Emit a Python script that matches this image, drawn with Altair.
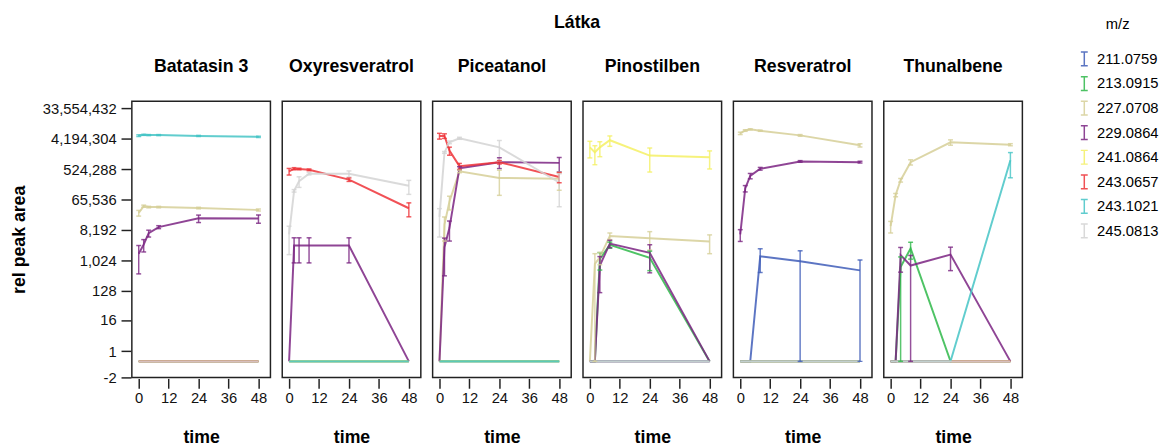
import altair as alt
import pandas as pd

TIMES = [0, 2, 4, 8, 24, 48]
MZ = ["211.0759", "213.0915", "227.0708", "229.0864", "241.0864", "243.0657", "243.1021", "245.0813"]
COLORS = ["#3F5DB8", "#2FB84A", "#D6CF98", "#7B2582", "#F4F064", "#EE3338", "#45C4C6", "#D3D3D3"]
SUBSTANCES = ["Batatasin 3", "Oxyresveratrol", "Piceatanol", "Pinostilben", "Resveratrol", "Thunalbene"]

batatasin3_mean = {
    "227.0708": [26000, 41500, 39000, 39000, 36500, 32000],
    "229.0864": [1600, 3000, 6500, 9900, 18000, 17800],
    "243.1021": [5200000, 5500000, 5400000, 5400000, 5100000, 4800000],
}
batatasin3_sd = {
    "227.0708": [5000, 3000, 2000, 2000, 2000, 2000],
    "229.0864": [1200, 1200, 1500, 1000, 4500, 5000],
    "243.1021": [300000, 200000, 200000, 200000, 200000, 200000],
}

oxyresveratrol_mean = {
    "229.0864": [0, 2800, 2800, 2800, 2800, 0],
    "243.0657": [450000, 540000, 530000, 500000, 256000, 36000],
    "245.0813": [6000, 119000, 230000, 384000, 384000, 168000],
}
oxyresveratrol_sd = {
    "229.0864": [0, 1950, 1950, 1950, 1950, 0],
    "243.0657": [100000, 40000, 30000, 30000, 30000, 16000],
    "245.0813": [4500, 10000, 80000, 30000, 80000, 75000],
}

piceatanol_mean = {
    "227.0708": [0, 11800, 57000, 450000, 287000, 273000],
    "229.0864": [0, 2500, 9400, 560000, 845000, 805000],
    "243.0657": [5100000, 5100000, 1860000, 645000, 845000, 307000],
    "245.0813": [20000, 1650000, 3300000, 4350000, 2330000, 210000],
}
piceatanol_sd = {
    "227.0708": [0, 8000, 25000, 40000, 200000, 150000],
    "229.0864": [0, 2150, 5600, 60000, 300000, 365000],
    "243.0657": [1000000, 800000, 500000, 130000, 100000, 100000],
    "245.0813": [15000, 100000, 300000, 300000, 1400000, 170000],
}

pinostilben_mean = {
    "213.0915": [0, 0, 1120, 2930, 1200, 0],
    "227.0708": [0, 800, 1250, 5400, 4640, 3700],
    "229.0864": [0, 0, 710, 3200, 1690, 0],
    "241.0864": [2330000, 1660000, 2330000, 3800000, 1330000, 1180000],
}
pinostilben_sd = {
    "213.0915": [0, 0, 600, 600, 700, 0],
    "227.0708": [0, 800, 500, 1200, 2600, 2100],
    "229.0864": [0, 0, 600, 800, 1260, 0],
    "241.0864": [1200000, 950000, 1100000, 1300000, 900000, 650000],
}

resveratrol_mean = {
    "211.0759": [0, 0, 0, 1340, 950, 510],
    "227.0708": [6100000, 7400000, 8000000, 7300000, 5300000, 2700000],
    "229.0864": [6000, 140000, 330000, 540000, 890000, 845000],
}
resveratrol_sd = {
    "211.0759": [0, 0, 0, 900, 1000, 520],
    "227.0708": [500000, 400000, 300000, 300000, 300000, 300000],
    "229.0864": [2300, 30000, 60000, 50000, 50000, 50000],
}

thunalbene_mean = {
    "213.0915": [0, 0, 640, 2300, 0, 0],
    "227.0708": [10600, 89000, 246000, 845000, 3300000, 2800000],
    "229.0864": [0, 0, 1450, 710, 1500, 0],
    "243.1021": [0, 0, 0, 0, 0, 960000],
}
thunalbene_sd = {
    "213.0915": [0, 0, 640, 1200, 0, 0],
    "227.0708": [4000, 10000, 30000, 150000, 600000, 200000],
    "229.0864": [0, 0, 1000, 710, 1000, 0],
    "243.1021": [0, 0, 0, 0, 0, 670000],
}

PANELS = {
    "Batatasin 3": (batatasin3_mean, batatasin3_sd),
    "Oxyresveratrol": (oxyresveratrol_mean, oxyresveratrol_sd),
    "Piceatanol": (piceatanol_mean, piceatanol_sd),
    "Pinostilben": (pinostilben_mean, pinostilben_sd),
    "Resveratrol": (resveratrol_mean, resveratrol_sd),
    "Thunalbene": (thunalbene_mean, thunalbene_sd),
}

rows = []
for sub in SUBSTANCES:
    means, sds = PANELS[sub]
    for mz in MZ:
        m = means.get(mz, [0] * len(TIMES))
        s = sds.get(mz, [0] * len(TIMES))
        for t, v, e in zip(TIMES, m, s):
            rows.append({"Látka": sub, "m/z": mz, "time": t, "value": v,
                         "lower": max(0, v - e), "upper": v + e, "sd": e})
df = pd.DataFrame(rows)

YTICKS = [-2, 1, 16, 128, 1024, 8192, 65536, 524288, 4194304, 33554432]
XTICKS = [0, 12, 24, 36, 48]

xscale = alt.Scale(domain=[-2.75, 52.8], nice=False, zero=False)
yscale = alt.Scale(type="symlog", domain=[-2, 55000000], nice=False, zero=False)
cscale = alt.Scale(domain=MZ, range=COLORS)

yaxis = alt.Axis(values=YTICKS, title="rel peak area", grid=False, domain=False,
                 labelExpr="datum.value < 0 ? '-' + format(-datum.value, ',') : format(datum.value, ',')",
                 labelOverlap=False, tickSize=10, labelFontSize=15, titleFontSize=18,
                 titleFontWeight="bold", tickColor="#222", tickWidth=1.5, labelColor="#111",
                 labelPadding=5, titlePadding=14)
xaxis = alt.Axis(values=XTICKS, title="time", grid=False, domain=False, tickSize=10,
                 labelOverlap=False, labelFontSize=15, titleFontSize=18, titleFontWeight="bold",
                 tickColor="#222", tickWidth=1.5, labelColor="#111", labelPadding=3, titlePadding=23)

legend = alt.Legend(title="m/z", symbolType="M-0.5,-1H0.5M0,-1V1M-0.5,1H0.5",
                    symbolSize=196, symbolStrokeWidth=1.5, symbolFillColor="transparent",
                    labelFontSize=15, titleFontSize=15, titleFontWeight="normal",
                    titleAnchor="middle", rowPadding=5, labelOffset=5,
                    titlePadding=19, orient="none", legendX=961, legendY=-85)

line = alt.Chart().mark_line(strokeWidth=2, opacity=0.85).encode(
    x=alt.X("time:Q", scale=xscale, axis=xaxis),
    y=alt.Y("value:Q", scale=yscale, axis=yaxis),
    color=alt.Color("m/z:N", scale=cscale, legend=legend),
)
rule = alt.Chart().transform_filter("datum.sd > 0").mark_rule(strokeWidth=1.5, opacity=0.8).encode(
    x=alt.X("time:Q", scale=xscale, axis=xaxis),
    y=alt.Y("lower:Q", scale=yscale, axis=yaxis),
    y2="upper:Q",
    color=alt.Color("m/z:N", scale=cscale, legend=None),
)
cap_lo = alt.Chart().transform_filter("datum.sd > 0").mark_tick(orient="horizontal", size=5, thickness=1.5, opacity=0.8).encode(
    x=alt.X("time:Q", scale=xscale, axis=xaxis),
    y=alt.Y("lower:Q", scale=yscale, axis=yaxis),
    color=alt.Color("m/z:N", scale=cscale, legend=None),
)
cap_hi = alt.Chart().transform_filter("datum.sd > 0").mark_tick(orient="horizontal", size=5, thickness=1.5, opacity=0.8).encode(
    x=alt.X("time:Q", scale=xscale, axis=xaxis),
    y=alt.Y("upper:Q", scale=yscale, axis=yaxis),
    color=alt.Color("m/z:N", scale=cscale, legend=None),
)

chart = alt.layer(line, rule, cap_lo, cap_hi, data=df).properties(
    width=141, height=281
).facet(
    column=alt.Column("Látka:N", sort=SUBSTANCES,
                      header=alt.Header(title="Látka", titleFontSize=18, titleFontWeight="bold",
                                        labelFontSize=18, labelFontWeight="bold",
                                        titlePadding=17, labelPadding=25))
).properties(
    padding={"left": 2, "top": 2, "right": 0, "bottom": 0}
).configure(font="Liberation Sans").configure_facet(spacing=10).configure_view(
    stroke="#222", strokeWidth=1.5
)

chart.save("out.html", embed_options={"renderer": "svg", "actions": False})
